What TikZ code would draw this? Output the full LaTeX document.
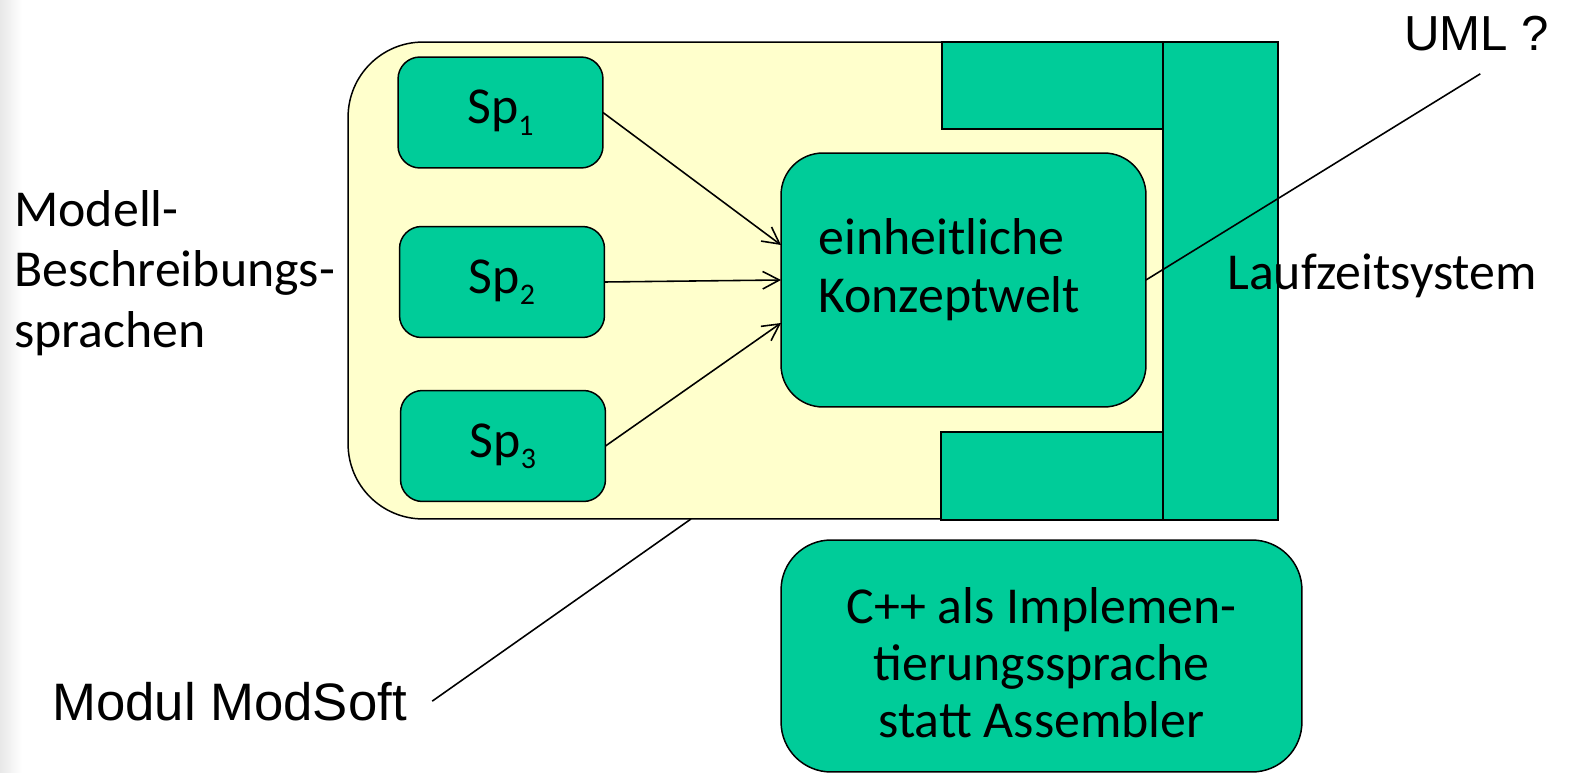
\documentclass[tikz,border=0pt]{standalone}
\usepackage{fontspec}
\setmainfont{Carlito}
\newfontfamily\arialfont{Liberation Sans}
\usetikzlibrary{arrows.meta,calc}
\definecolor{boxgreen}{RGB}{0,204,153}
\definecolor{paleyellow}{RGB}{255,255,204}
% language index set as a lowered small digit
\newcommand{\langidx}[1]{\raisebox{-6.5pt}{\fontsize{17}{17}\selectfont #1}}
\begin{document}
\begin{tikzpicture}[x=0.02cm,y=-0.02cm,
  outline/.style={draw=black,line width=0.85pt,inner sep=0pt,outer sep=0pt},
  yellowbox/.style={outline,fill=paleyellow,rounded corners=1.5cm},
  roundgreen/.style={outline,fill=boxgreen,rounded corners=#1},
  sharpgreen/.style={outline,fill=boxgreen},
  spbox/.style={roundgreen=0.44cm,minimum width=4.1cm,minimum height=2.22cm,
    font=\fontsize{29.5}{34}\selectfont},
  bodytext/.style={inner sep=0pt,font=\fontsize{29.5}{34.6}\selectfont},
  arialtext/.style={inner sep=0pt,font=\arialfont\fontsize{#1}{#1}\selectfont},
  feed/.style={line width=0.9pt,-{Straight Barb[length=9.5pt,width=10pt,line width=0.9pt]}},
  pointer/.style={line width=0.9pt}]
\useasboundingbox (0,0) rectangle (1575,773);
% faint shadow along the left margin
\shade[left color=black!9,right color=white] (0,0) rectangle (22,773);

% module frame
\node[yellowbox,minimum width=18.6cm,minimum height=9.54cm] (yb) at (813,280.5) {};

% runtime system blocks
\node[sharpgreen,minimum width=4.42cm,minimum height=1.74cm] (top) at (1052.5,85.5) {};
\node[sharpgreen,minimum width=4.44cm,minimum height=1.76cm] (bot) at (1052,476) {};
\node[sharpgreen,minimum width=2.3cm,minimum height=9.56cm] (lz) at (1220.5,281) {};

% description languages
\node[spbox] (sp1) at (500.5,112.5) {Sp\langidx{1}};
\node[spbox] (sp2) at (502,282) {Sp\langidx{2}};
\node[spbox] (sp3) at (503,446) {Sp\langidx{3}};

% unified concept world
\node[roundgreen=0.84cm,minimum width=7.3cm,minimum height=5.08cm] (kw) at (963.5,280) {};
\node[bodytext,align=left,anchor=west,font=\fontsize{29.5}{33}\selectfont] (kwtext) at (818,270)
  {einheitliche\\Konzeptwelt};

% implementation language
\node[roundgreen=1cm,minimum width=10.42cm,minimum height=4.64cm] (cpp) at (1041.5,656) {};
\node[bodytext,align=center,font=\fontsize{29.5}{32.5}\selectfont] (cpptext) at (1041.5,663)
  {C++ als Implemen-\\tierungssprache\\statt Assembler};

% arrows into the concept world
\draw[feed] (sp1.east) -- ([yshift=0.7cm]kw.west);
\draw[feed] (sp2.east) -- (kw.west);
\draw[feed] (sp3.east) -- ([yshift=-0.86cm]kw.west);

% outside labels
\node[bodytext,align=left,anchor=west] (modell) at (14,273)
  {Modell-\\Beschreibungs-\\sprachen};
\node[bodytext,anchor=base west] (laufzeit) at (1227,290) {Laufzeitsystem};
\node[arialtext=28,anchor=base west] (uml) at (1404,51) {UML ?};
\node[arialtext=30,anchor=base west] (modsoft) at (52,720) {Modul ModSoft};

% pointer lines
\draw[pointer] (kw.east) -- ([xshift=0.07cm,yshift=-0.44cm]uml.south);
\draw[pointer] ([xshift=0.5cm]modsoft.east) -- ([xshift=-2.44cm]yb.south);
\end{tikzpicture}
\end{document}
